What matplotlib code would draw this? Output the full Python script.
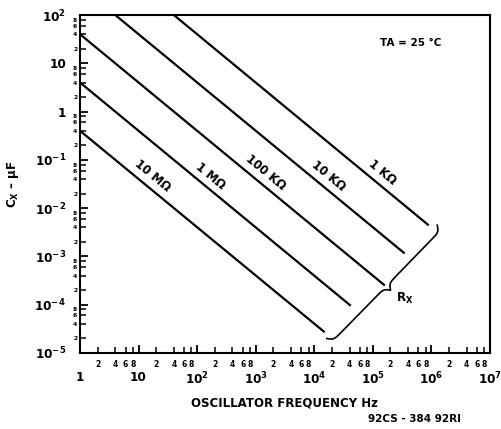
import numpy as np
import matplotlib
matplotlib.use("Agg")
import matplotlib.pyplot as plt
from matplotlib.ticker import FixedLocator, FixedFormatter

plt.rcParams['font.family'] = ['DejaVu Sans']
plt.rcParams['font.weight'] = 'bold'
plt.rcParams['mathtext.fontset'] = 'custom'
plt.rcParams['mathtext.rm'] = 'DejaVu Sans:bold'
plt.rcParams['mathtext.it'] = 'DejaVu Sans:bold'
plt.rcParams['mathtext.bf'] = 'DejaVu Sans:bold'
plt.rcParams['mathtext.sf'] = 'DejaVu Sans:bold'
plt.rcParams['mathtext.default'] = 'rm'

# ---- data ----
resistor_labels = ['10 MΩ', '1 MΩ', '100 KΩ', '10 KΩ', '1 KΩ']
f_start = [1, 1, 1, 4, 40]
c_start = [0.4, 4, 40, 100, 100]
f_end = [1.5e4, 4.2e4, 1.6e5, 3.5e5, 9e5]
c_end = [2.7e-5, 9.5e-5, 2.5e-4, 1.15e-3, 4.4e-3]
label_f = [13, 130, 1100, 13000, 110000]

x_major = [1, 10, 1e2, 1e3, 1e4, 1e5, 1e6, 1e7]
x_major_labels = ['1', '10', '$10^{2}$', '$10^{3}$', '$10^{4}$', '$10^{5}$', '$10^{6}$', '$10^{7}$']
y_major = [1e-5, 1e-4, 1e-3, 1e-2, 1e-1, 1, 10, 1e2]
y_major_labels = ['$10^{-5}$', '$10^{-4}$', '$10^{-3}$', '$10^{-2}$', '$10^{-1}$', '1', '10', '$10^{2}$']
minor_mult = [2, 4, 6, 8]

fig = plt.figure(figsize=(5.02, 4.29), dpi=100)
ax = fig.add_axes([80/502, 76/429, 410/502, 338/429])
ax.set_xscale('log')
ax.set_yscale('log')
ax.set_xlim(1, 1e7)
ax.set_ylim(1e-5, 1e2)

for s in ax.spines.values():
    s.set_linewidth(1.5)

# ticks
x_minor = [m * 10.0**d for d in range(0, 7) for m in minor_mult]
y_minor = [m * 10.0**d for d in range(-5, 2) for m in minor_mult]
ax.xaxis.set_major_locator(FixedLocator(x_major))
ax.xaxis.set_major_formatter(FixedFormatter(x_major_labels))
ax.xaxis.set_minor_locator(FixedLocator(x_minor))
ax.xaxis.set_minor_formatter(FixedFormatter([str(m) for d in range(0, 7) for m in minor_mult]))
ax.yaxis.set_major_locator(FixedLocator(y_major))
ax.yaxis.set_major_formatter(FixedFormatter(y_major_labels))
ax.yaxis.set_minor_locator(FixedLocator(y_minor))
ax.yaxis.set_minor_formatter(FixedFormatter([str(m) for d in range(-5, 2) for m in minor_mult]))

ax.tick_params(which='major', direction='in', length=6, width=1.3, labelsize=8.7)
ax.tick_params(which='minor', direction='in', length=4.5, width=1.1)
ax.tick_params(axis='x', which='minor', pad=5, labelsize=5.5)
ax.tick_params(axis='x', which='major', pad=13)
ax.tick_params(axis='y', which='minor', pad=2, labelsize=4.3)
ax.tick_params(axis='y', which='major', pad=10)

# lines
for i in range(len(resistor_labels)):
    ax.plot([f_start[i], f_end[i]], [c_start[i], c_end[i]], color='black', lw=1.6,
            solid_capstyle='butt')

# line labels
for i, lab in enumerate(resistor_labels):
    p0 = ax.transData.transform((f_start[i], c_start[i]))
    p1 = ax.transData.transform((f_end[i], c_end[i]))
    d = p1 - p0
    u = d / np.hypot(*d)
    ang = np.degrees(np.arctan2(u[1], u[0]))
    nrm = np.array([-u[1], u[0]])  # up-right normal
    t = (np.log10(label_f[i]) - np.log10(f_start[i])) / (np.log10(f_end[i]) - np.log10(f_start[i]))
    lc = 10 ** (np.log10(c_start[i]) + t * (np.log10(c_end[i]) - np.log10(c_start[i])))
    off = 8.0
    ax.annotate(lab, xy=(label_f[i], lc), xytext=(nrm[0] * off, nrm[1] * off),
                textcoords='offset points', rotation=ang, rotation_mode='anchor',
                ha='center', va='center', fontsize=8.5, fontweight='bold')

# brace (R_X) beside the line ends
q0 = ax.transData.transform((f_end[0], c_end[0]))
q1 = ax.transData.transform((f_end[-1], c_end[-1]))
d = q1 - q0
L = np.hypot(*d)
u = d / L
n = np.array([u[1], -u[0]])  # outward (down-right)
N = 401
t = np.linspace(0, 1, N)
half = t[:N // 2 + 1]
beta = 80.0
yh = 1 / (1 + np.exp(-beta * (half - half[0]))) + 1 / (1 + np.exp(-beta * (half - half[-1])))
prof = np.concatenate((yh, yh[-2::-1])) - 0.5
s0, s1 = -3.0, L + 6.0
pts = q0[None, :] + u[None, :] * (s0 + t[:, None] * (s1 - s0)) + n[None, :] * (6 + 12 * prof[:, None])
dpts = ax.transData.inverted().transform(pts)
ax.plot(dpts[:, 0], dpts[:, 1], color='black', lw=1.2, clip_on=False)
tip = pts[N // 2]
tipd = ax.transData.inverted().transform(tip)
ax.annotate('R$_{X}$', xy=tipd, xytext=(4, -6), textcoords='offset points',
            ha='left', va='center', fontsize=8.5, fontweight='bold')

ax.text(380/502, 1 - 43/429, 'TA = 25 °C', transform=fig.transFigure, ha='left', va='center',
        fontsize=7.5, fontweight='bold')

ax.set_xlabel('OSCILLATOR FREQUENCY Hz', fontsize=8.5, fontweight='bold')
ax.xaxis.set_label_coords(0.5, -(396 - 353) / 338)
ax.set_ylabel('C$_{X}$ – μF', fontsize=8.5, fontweight='bold')
ax.yaxis.set_label_coords(-(80 - 21) / 410, 0.5)

fig.text(414/502, 1 - 419/429, '92CS - 384 92RI', ha='center', va='center', fontsize=7.5,
         fontweight='bold')

fig.savefig('out.png', dpi=100)
